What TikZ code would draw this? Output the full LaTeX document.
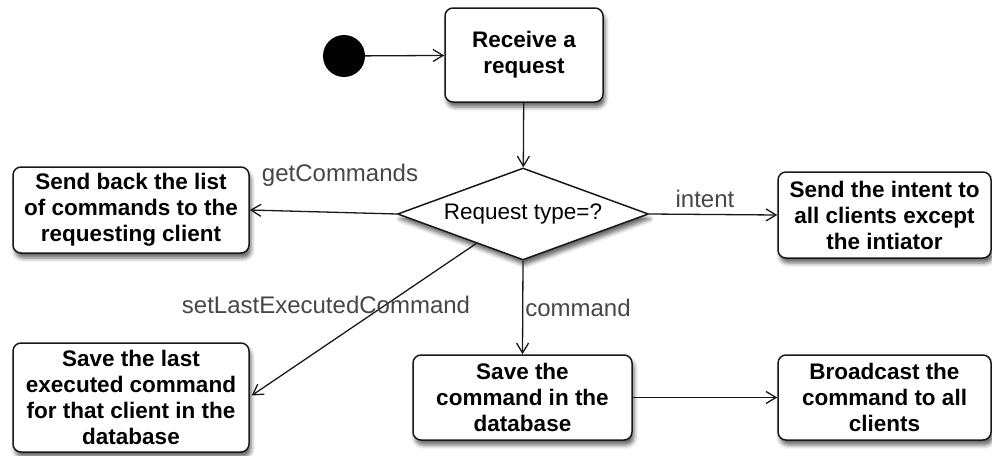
\documentclass[tikz,border=0pt]{standalone}
\usepackage{fontspec}
\setmainfont{Liberation Sans}
\usetikzlibrary{arrows.meta,shapes.geometric,shadows.blur,calc}
\definecolor{labelgray}{RGB}{70,70,70}
\definecolor{inkline}{RGB}{25,25,25}
\begin{document}
\begin{tikzpicture}[x=1pt,y=-1pt,
  every node/.style={font=\fontsize{22.5}{26}\selectfont},
  action/.style={draw=inkline, line width=1.5pt, fill=white, rounded corners=8pt,
    align=center, inner sep=0pt, font=\fontsize{22.5}{26}\selectfont\bfseries,
    blur shadow={shadow xshift=2pt, shadow yshift=-5pt, shadow blur radius=4pt, shadow opacity=60}},
  decision/.style={diamond, draw=inkline, line width=1.5pt, fill=white, inner sep=0pt,
    minimum width=251pt, minimum height=92pt, aspect=2.72,
    blur shadow={shadow xshift=2pt, shadow yshift=-5pt, shadow blur radius=4pt, shadow opacity=60}},
  flow/.style={draw=inkline, line width=1.3pt, -{Straight Barb[length=10pt,width=12pt,line width=1.3pt]}},
  guard/.style={text=labelgray, inner sep=0pt, font=\fontsize{24}{28}\selectfont}
]
\useasboundingbox (0,0) rectangle (992,455);

% initial state
\node[circle, fill=black, minimum size=42pt, inner sep=0pt] (start) at (344,56) {};

% actions
\node[action, minimum width=158pt, minimum height=94pt] (receive) at (524,55)
  {Receive a\\request};
\node[decision] (type) at (523,214) {Request type=?};
\node[action, minimum width=236pt, minimum height=86pt] (sendlist) at (131,210)
  {Send back the list\\of commands to the\\requesting client};
\node[action, minimum width=213pt, minimum height=86pt] (intent) at (884.5,215)
  {Send the intent to\\all clients except\\the intiator};
\node[action, minimum width=236pt, minimum height=109pt] (savelast) at (131,397.5)
  {Save the last\\executed command\\for that client in the\\database};
\node[action, minimum width=219pt, minimum height=85pt] (savecmd) at (522.5,397.5)
  {Save the\\command in the\\database};
\node[action, minimum width=213pt, minimum height=85pt] (broadcast) at (884.5,397.5)
  {Broadcast the\\command to all\\clients};

% connectors
\draw[flow] (start) -- (receive);
\draw[flow] (receive) -- (type);
\draw[flow] (type.west) -- (sendlist.east);
\draw[flow] (type.east) -- (intent.west);
\coordinate (lowleft) at ($(type.west)!0.63!(type.south)$);
\draw[flow] (lowleft) -- ($(savelast.east)+(2,-2)$);
\draw[flow] (type.south) -- (savecmd.north);
\draw[flow] (savecmd.east) -- (broadcast.west);

% guards
\node[guard] (gget) at (340,175) {getCommands};
\node[guard] (gint) at (705,199) {intent};
\node[guard] (gset) at (326,305) {setLastExecutedCommand};
\node[guard] (gcmd) at (578,308) {command};
\end{tikzpicture}
\end{document}
